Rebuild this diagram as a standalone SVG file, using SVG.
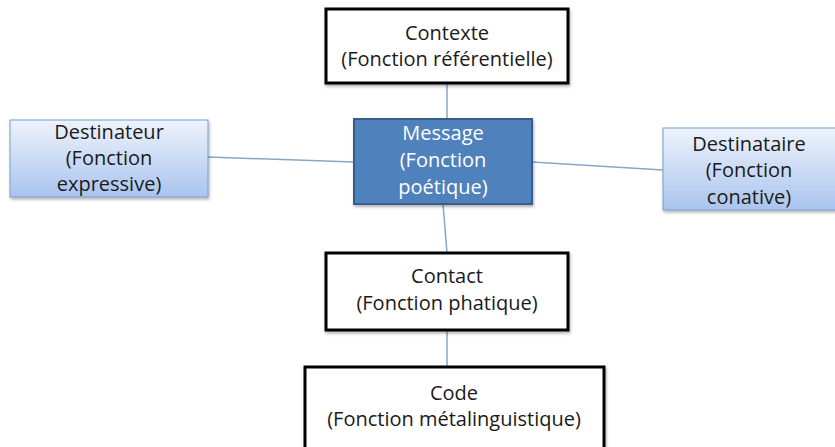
<svg xmlns="http://www.w3.org/2000/svg" width="835" height="447" viewBox="0 0 835 447">
<defs>
<linearGradient id="lb" x1="0" y1="0" x2="0" y2="1">
<stop offset="0" stop-color="#eef3fc"/>
<stop offset="1" stop-color="#a9c4ee"/>
</linearGradient>
<filter id="sh" x="-10%" y="-10%" width="120%" height="130%">
<feDropShadow dx="1" dy="2" stdDeviation="1.5" flood-color="#000" flood-opacity="0.3"/>
</filter>
</defs>
<style>
text{font-family:"Open Sans","Liberation Sans",Arial,sans-serif;font-size:20px;fill:#1a1a1a;text-anchor:middle}
.w{fill:#fff}
.bk{fill:#fff;stroke:#000;stroke-width:3}
.lt{fill:url(#lb);stroke:#7b9ccc;stroke-width:1}
.dk{fill:#4f81bd;stroke:#385d8a;stroke-width:2}
.c{stroke:#87a6c8;stroke-width:1.5;fill:none}
</style>
<rect width="835" height="447" fill="#fff"/>
<g id="connectors">
<line class="c" x1="447" y1="84" x2="447" y2="119"/>
<line class="c" x1="208" y1="157" x2="354" y2="162"/>
<line class="c" x1="532" y1="162" x2="663" y2="170"/>
<line class="c" x1="443" y1="204" x2="447" y2="253"/>
<line class="c" x1="447" y1="330" x2="447" y2="367"/>
</g>
<g id="contexte">
<rect class="bk" x="326" y="9" width="242" height="74" filter="url(#sh)"/>
<text x="447" y="40">Contexte</text>
<text x="447" y="66">(Fonction référentielle)</text>
</g>
<g id="destinateur">
<rect class="lt" x="10" y="120" width="198" height="77" filter="url(#sh)"/>
<text x="109" y="139">Destinateur</text>
<text x="109" y="165">(Fonction</text>
<text x="109" y="191">expressive)</text>
</g>
<g id="message">
<rect class="dk" x="354" y="119" width="178" height="85" filter="url(#sh)"/>
<text class="w" x="443" y="140">Message</text>
<text class="w" x="443" y="167">(Fonction</text>
<text class="w" x="443" y="194">poétique)</text>
</g>
<g id="destinataire">
<rect class="lt" x="663" y="128" width="174" height="82" filter="url(#sh)"/>
<text x="749" y="151">Destinataire</text>
<text x="749" y="177">(Fonction</text>
<text x="749" y="204">conative)</text>
</g>
<g id="contact">
<rect class="bk" x="326" y="253" width="242" height="77" filter="url(#sh)"/>
<text x="447" y="283">Contact</text>
<text x="447" y="310">(Fonction phatique)</text>
</g>
<g id="code">
<rect class="bk" x="305" y="367" width="299" height="90" filter="url(#sh)"/>
<text x="454" y="400">Code</text>
<text x="454" y="426">(Fonction métalinguistique)</text>
</g>
</svg>
